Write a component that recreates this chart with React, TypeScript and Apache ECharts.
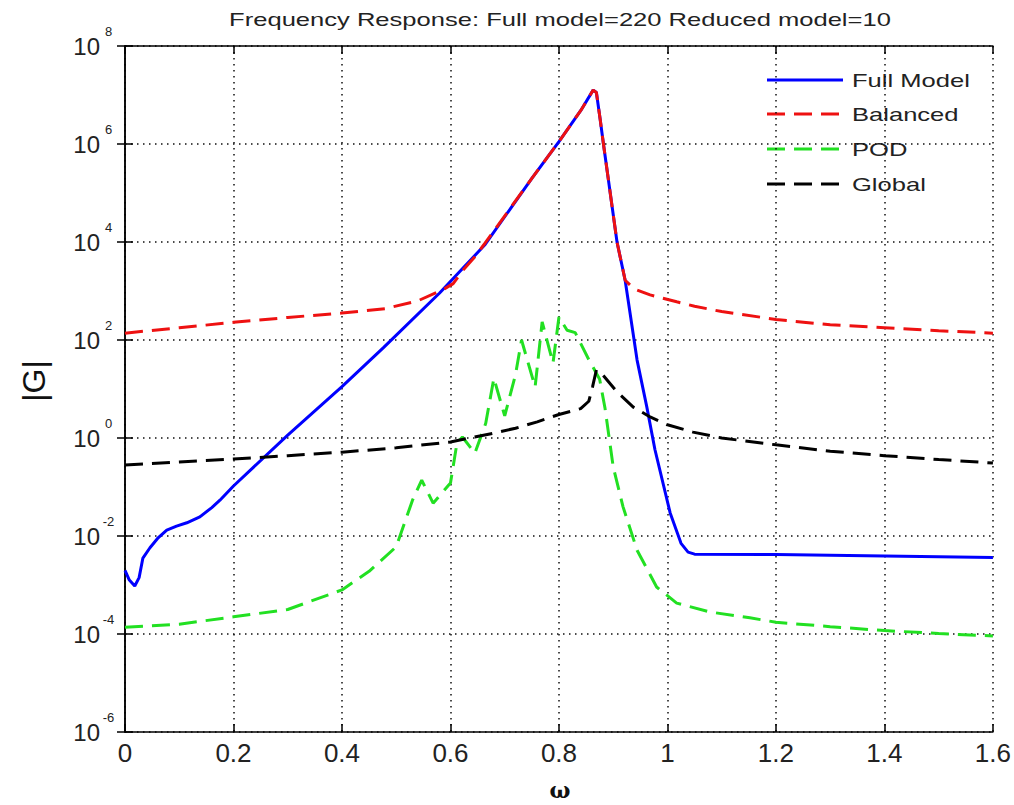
import React, { useEffect, useRef } from "react";
import * as echarts from "echarts";

// Frequency samples (omega) and log10|G|
const fullX = [0, 0.008, 0.018, 0.026, 0.033, 0.046, 0.06, 0.077, 0.095, 0.114, 0.138, 0.16, 0.175, 0.2, 0.3, 0.4, 0.476, 0.58, 0.664, 0.75, 0.8, 0.84, 0.863, 0.869, 0.876, 0.882, 0.907, 0.922, 0.944, 0.962, 0.977, 1.005, 1.025, 1.038, 1.05, 1.2, 1.4, 1.6];
const fullLog = [-2.7, -2.9, -3.02, -2.85, -2.45, -2.24, -2.05, -1.88, -1.8, -1.73, -1.61, -1.42, -1.27, -0.98, 0.06, 1.05, 1.84, 2.96, 3.95, 5.3, 6.05, 6.68, 7.1, 7.05, 6.5, 6.0, 4.0, 3.22, 1.59, 0.63, -0.24, -1.53, -2.15, -2.33, -2.37, -2.38, -2.41, -2.44];

const balX = [0, 0.1, 0.2, 0.3, 0.4, 0.48, 0.54, 0.585, 0.605, 0.625, 0.645, 0.664, 0.75, 0.8, 0.84, 0.863, 0.869, 0.876, 0.882, 0.907, 0.922, 0.935, 0.944, 0.968, 1.017, 1.05, 1.1, 1.2, 1.3, 1.4, 1.5, 1.6];
const balLog = [2.14, 2.25, 2.36, 2.46, 2.55, 2.64, 2.8, 3.02, 3.15, 3.45, 3.7, 3.98, 5.3, 6.05, 6.68, 7.1, 7.05, 6.5, 6.0, 4.0, 3.22, 3.08, 3.02, 2.92, 2.78, 2.69, 2.58, 2.42, 2.31, 2.25, 2.19, 2.14];

const podX = [0, 0.1, 0.2, 0.3, 0.4, 0.45, 0.5, 0.53, 0.547, 0.568, 0.6, 0.612, 0.622, 0.645, 0.665, 0.68, 0.7, 0.72, 0.731, 0.756, 0.769, 0.789, 0.8, 0.815, 0.83, 0.855, 0.875, 0.885, 0.9, 0.918, 0.944, 0.98, 1.017, 1.078, 1.152, 1.2, 1.3, 1.4, 1.5, 1.6];
const podLog = [-3.86, -3.8, -3.65, -3.5, -3.1, -2.72, -2.22, -1.27, -0.86, -1.33, -0.92, -0.1, 0.02, -0.31, 0.3, 1.22, 0.45, 1.3, 2.0, 1.04, 2.37, 1.53, 2.47, 2.2, 2.15, 1.6, 1.2, 0.6, -0.59, -1.4, -2.29, -3.04, -3.37, -3.55, -3.67, -3.76, -3.85, -3.93, -3.99, -4.04];

const globX = [0, 0.1, 0.2, 0.3, 0.4, 0.5, 0.6, 0.68, 0.72, 0.76, 0.8, 0.84, 0.855, 0.862, 0.869, 0.88, 0.907, 0.937, 0.968, 1.0, 1.047, 1.1, 1.2, 1.3, 1.4, 1.5, 1.6];
const globLog = [-0.55, -0.49, -0.43, -0.36, -0.29, -0.2, -0.08, 0.1, 0.2, 0.33, 0.48, 0.6, 0.75, 1.05, 1.39, 1.3, 0.94, 0.63, 0.43, 0.27, 0.12, 0.0, -0.14, -0.27, -0.36, -0.44, -0.51];

const seriesNames = ["Full Model", "Balanced", "POD", "Global"];
const seriesColors = ["#0000ff", "#ee1111", "#22e022", "#000000"];
const seriesDash: any[] = ["solid", [18, 9], [18, 9], [18, 9]];
const titleText = "Frequency Response: Full model=220 Reduced model=10";

const FONT = "'Liberation Sans', Arial, Helvetica, sans-serif";

const toPairs = (xs: number[], logs: number[]) => xs.map((x, i) => [x, Math.pow(10, logs[i])]);

export default function App() {
  const ref = useRef<HTMLDivElement>(null);
  useEffect(() => {
    const chart = echarts.init(ref.current!, null, { renderer: "svg" });
    const axisLineStyle = { color: "#000", width: 1.5 };
    const gridLine = { show: true, lineStyle: { color: "#111", width: 1.5, type: [1.5, 4.5] as any } };
    const yLabel = {
      show: true,
      margin: 8,
      showMinLabel: true,
      showMaxLabel: true,
      formatter: (v: number) => {
        const e = Math.round(Math.log10(v));
        return `{b|10}{e|${e}}`;
      },
      rich: {
        b: { fontSize: 24, fontFamily: FONT, color: "#222" },
        e: { fontSize: 13, fontFamily: FONT, color: "#222", padding: [0, 0, 30, 0], width: 17, align: "left" },
      },
    };

    const legendTop = [80, 114, 149, 184];
    const legendGraphics: any[] = [];
    seriesNames.forEach((name, i) => {
      const dash = seriesDash[i];
      legendGraphics.push({
        type: "line",
        silent: true,
        shape: { x1: 767, y1: legendTop[i], x2: 843, y2: legendTop[i] },
        style: { stroke: seriesColors[i], lineWidth: 3, lineDash: dash === "solid" ? null : dash },
      });
      legendGraphics.push({
        type: "text",
        silent: true,
        x: 852,
        y: legendTop[i] + 1,
        scaleX: 1.42,
        style: { text: name, fontSize: 18, fontFamily: FONT, fill: "#222", align: "left", verticalAlign: "middle" },
      });
    });

    const option: any = {
      animation: false,
      backgroundColor: "#fff",
      grid: { left: 125, top: 46, right: 21, bottom: 73 },
      xAxis: [
        {
          type: "value",
          min: 0,
          max: 1.6,
          interval: 0.2,
          position: "bottom",
          axisLine: { show: true, lineStyle: axisLineStyle },
          axisTick: { show: true, inside: true, length: 8, lineStyle: axisLineStyle },
          axisLabel: {
            show: true,
            fontSize: 26,
            color: "#222",
            fontFamily: FONT,
            margin: 8,
            formatter: (v: number) => String(+v.toFixed(1)),
          },
          splitLine: gridLine,
        },
        {
          type: "value",
          min: 0,
          max: 1.6,
          interval: 0.2,
          position: "top",
          axisLine: { show: true, lineStyle: axisLineStyle },
          axisTick: { show: true, inside: true, length: 8, lineStyle: axisLineStyle },
          axisLabel: { show: false },
          splitLine: { show: false },
        },
      ],
      yAxis: [
        {
          type: "log",
          logBase: 10,
          min: 1e-6,
          max: 1e8,
          interval: 2,
          splitNumber: 7,
          position: "left",
          axisLine: { show: true, lineStyle: axisLineStyle },
          axisTick: { show: true, inside: true, length: 8, lineStyle: axisLineStyle },
          axisLabel: yLabel,
          splitLine: gridLine,
        },
        {
          type: "log",
          logBase: 10,
          min: 1e-6,
          max: 1e8,
          interval: 2,
          splitNumber: 7,
          position: "right",
          axisLine: { show: true, lineStyle: axisLineStyle },
          axisTick: { show: true, inside: true, length: 8, lineStyle: axisLineStyle },
          axisLabel: { show: false },
          splitLine: { show: false },
        },
      ],
      graphic: [
        {
          type: "text",
          x: 560,
          y: 20,
          scaleX: 1.42,
          style: { text: titleText, fontSize: 18, fontFamily: FONT, fill: "#222", align: "center", verticalAlign: "middle" },
        },
        {
          type: "text",
          x: 34,
          y: 381,
          rotation: Math.PI / 2,
          style: { text: "|G|", fontSize: 32, fontFamily: FONT, fill: "#111", align: "center", verticalAlign: "middle" },
        },
        {
          type: "text",
          x: 560,
          y: 790,
          style: { text: "ω", fontSize: 22, fontWeight: "bold", fontFamily: "'DejaVu Serif', serif", fill: "#111", align: "center", verticalAlign: "middle" },
        },
        ...legendGraphics,
      ],
      series: [
        { x: fullX, l: fullLog },
        { x: balX, l: balLog },
        { x: podX, l: podLog },
        { x: globX, l: globLog },
      ].map((s, i) => ({
        name: seriesNames[i],
        type: "line",
        symbol: "none",
        showSymbol: false,
        silent: true,
        data: toPairs(s.x, s.l),
        lineStyle: { color: seriesColors[i], width: 3, type: seriesDash[i] },
        itemStyle: { color: seriesColors[i] },
        z: 2 + i,
      })),
    };
    chart.setOption(option);
    return () => chart.dispose();
  }, []);
  return <div ref={ref} style={{ position: "absolute", left: 0, top: 0, width: 1014, height: 805 }} />;
}
